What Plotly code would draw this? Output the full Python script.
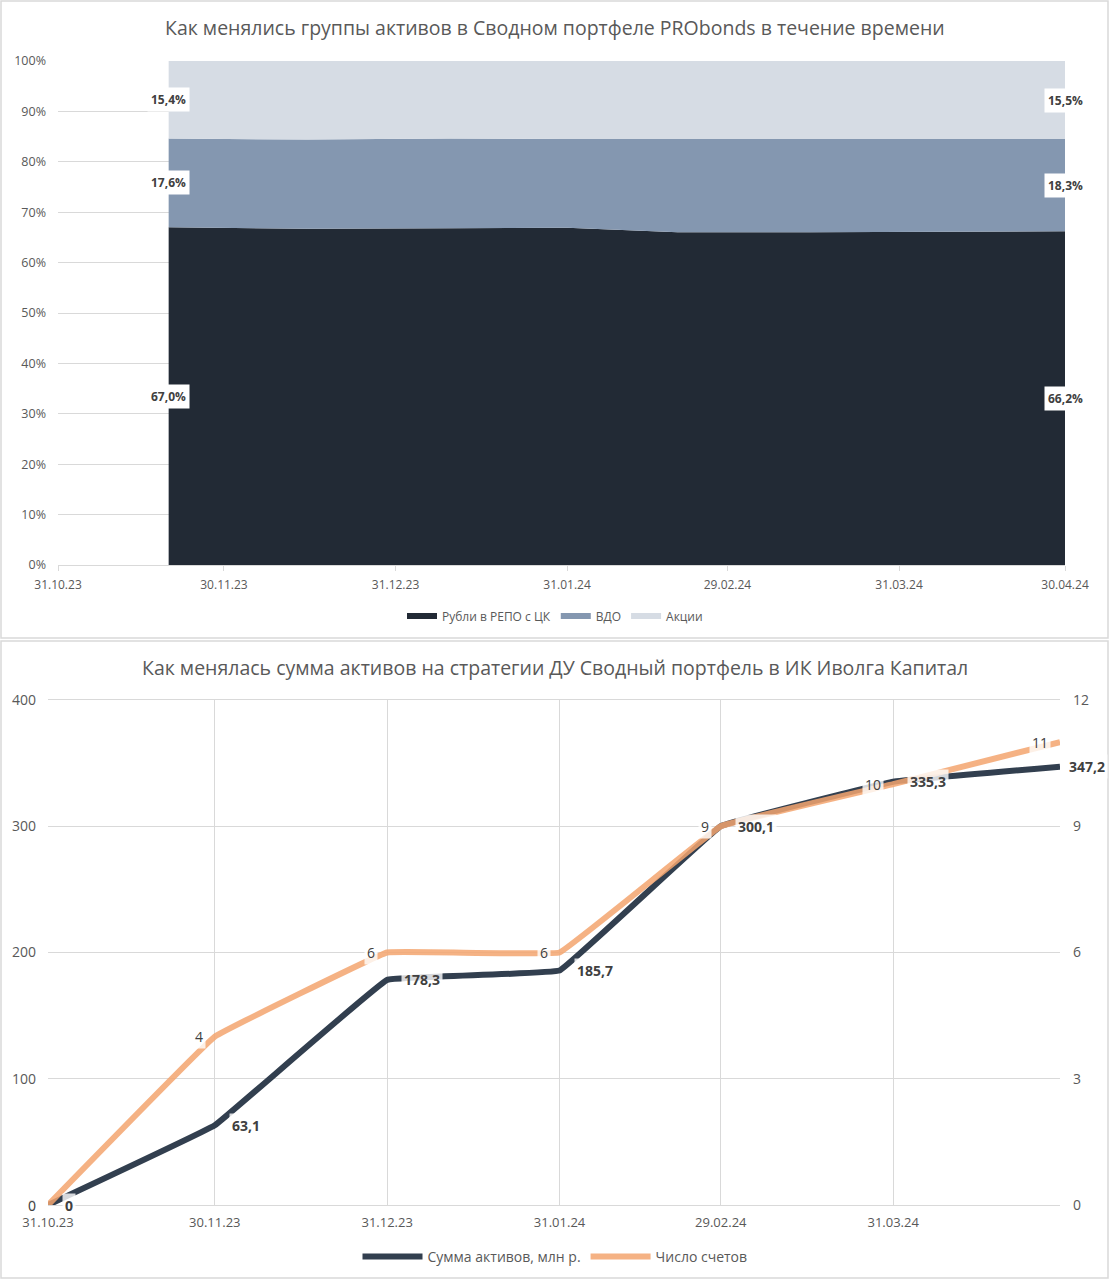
import plotly.graph_objects as go

# Верхний график: структура портфеля, %
dates_top = ['2023-11-20', '2023-12-15', '2024-01-10', '2024-01-31',
             '2024-02-20', '2024-03-15', '2024-04-30']
repo = [67.0, 66.7, 66.8, 66.9, 66.0, 66.0, 66.2]
vdo = [17.6, 17.7, 17.8, 17.6, 18.5, 18.5, 18.3]
akcii = [15.4, 15.6, 15.4, 15.5, 15.5, 15.5, 15.5]

# Нижний график: сумма активов и число счетов
dates_bot = ['2023-10-31', '2023-11-30', '2023-12-31', '2024-01-31',
             '2024-02-29', '2024-03-31', '2024-04-30']
summa = [0, 63.1, 178.3, 185.7, 300.1, 335.3, 347.2]
scheta = [0, 4, 6, 6, 9, 10, 11]

tick_dates = dates_bot
tick_labels = ['31.10.23', '30.11.23', '31.12.23', '31.01.24',
               '29.02.24', '31.03.24', '30.04.24']

W, H = 1110, 1280
FONT = 'Open Sans'
GRAY = '#595959'
GRID = '#D9D9D9'


def px(x):
    return x / W


def py(y):
    return 1 - y / H


fig = go.Figure()

# --- верхний: stacked area ---
fig.add_trace(go.Scatter(x=dates_top, y=repo, name='Рубли в РЕПО с ЦК', stackgroup='a',
                         mode='none', fillcolor='#222A35', xaxis='x', yaxis='y', legend='legend'))
fig.add_trace(go.Scatter(x=dates_top, y=vdo, name='ВДО', stackgroup='a',
                         mode='none', fillcolor='#8497B0', xaxis='x', yaxis='y', legend='legend'))
fig.add_trace(go.Scatter(x=dates_top, y=akcii, name='Акции', stackgroup='a',
                         mode='none', fillcolor='#D6DCE4', xaxis='x', yaxis='y', legend='legend'))

# --- нижний: линии ---
fig.add_trace(go.Scatter(x=dates_bot, y=summa, name='Сумма активов, млн р.', mode='lines',
                         line=dict(color='#323F4F', width=6, shape='spline', smoothing=0.15),
                         xaxis='x2', yaxis='y2', legend='legend2'))
fig.add_trace(go.Scatter(x=dates_bot, y=scheta, name='Число счетов', mode='lines',
                         line=dict(color='rgba(243,165,110,0.85)', width=6, shape='spline', smoothing=0.15),
                         xaxis='x2', yaxis='y3', legend='legend2'))

ann = []
# подписи долей в начале и конце
for i in (0, len(dates_top) - 1):
    base = 0
    for series in (repo, vdo, akcii):
        v = series[i]
        ann.append(dict(x=dates_top[i], y=base + v / 2, xref='x', yref='y',
                        text='<b>' + f'{v:.1f}'.replace('.', ',') + '%</b>',
                        showarrow=False, bgcolor='white', borderpad=3,
                        font=dict(family=FONT, size=12, color='#404040')))
        base += v

last = len(dates_bot) - 1
for i, (d, v) in enumerate(zip(dates_bot, summa)):
    t = f'{v:g}'.replace('.', ',') if v == int(v) else f'{v:.1f}'.replace('.', ',')
    ann.append(dict(x=d, y=v, xref='x2', yref='y2', text='<b>' + t + '</b>',
                    showarrow=False, xanchor='left', xshift=6 if i == last else 14, borderpad=2,
                    bgcolor='rgba(255,255,255,0.8)',
                    font=dict(family=FONT, size=14, color='#404040')))
for d, v in zip(dates_bot, scheta):
    ann.append(dict(x=d, y=v, xref='x2', yref='y3', text=str(v),
                    showarrow=False, xanchor='right', xshift=-9, borderpad=2,
                    bgcolor='rgba(255,255,255,0.8)',
                    font=dict(family=FONT, size=14, color='#404040')))

ann.append(dict(x=0.5, y=py(28), xref='paper', yref='paper', showarrow=False,
                xanchor='center', yanchor='middle',
                text='Как менялись группы активов в Сводном портфеле PRObonds в течение времени',
                font=dict(family=FONT, size=19.5, color=GRAY)))
ann.append(dict(x=0.5, y=py(667), xref='paper', yref='paper', showarrow=False,
                xanchor='center', yanchor='middle',
                text='Как менялась сумма активов на стратегии ДУ Сводный портфель в ИК Иволга Капитал',
                font=dict(family=FONT, size=19.5, color=GRAY)))

shapes = [
    dict(type='rect', xref='paper', yref='paper', x0=px(1), x1=px(1108), y0=py(1), y1=py(638),
         line=dict(color=GRID, width=1.5), layer='below'),
    dict(type='rect', xref='paper', yref='paper', x0=px(1), x1=px(1108), y0=py(641), y1=py(1278),
         line=dict(color=GRID, width=1.5), layer='below'),
]

fig.update_layout(
    width=W, height=H,
    margin=dict(l=0, r=0, t=0, b=0, autoexpand=False),
    paper_bgcolor='white', plot_bgcolor='white',
    font=dict(family=FONT, color=GRAY),
    annotations=ann, shapes=shapes,
    xaxis=dict(domain=[px(58), px(1065)], type='date', range=['2023-10-31', '2024-04-30'],
               tickvals=tick_dates, ticktext=tick_labels, showgrid=False, automargin=False,
               showline=True, linecolor=GRID, ticks='outside', tickcolor=GRID, ticklen=5,
               ticklabelstandoff=4,
               tickfont=dict(size=12, color=GRAY), anchor='y'),
    yaxis=dict(domain=[py(565), py(61)], range=[0, 100], dtick=10, ticksuffix='%',
               showgrid=True, gridcolor=GRID, zeroline=False, automargin=False,
               ticklabelstandoff=11,
               tickfont=dict(size=12.5, color=GRAY), anchor='x'),
    xaxis2=dict(domain=[px(48), px(1060)], type='date', range=['2023-10-31', '2024-04-30'],
                tickvals=tick_dates, ticktext=tick_labels[:-1] + [''], automargin=False,
                showgrid=True, gridcolor=GRID, showline=True, mirror=True, linecolor=GRID,
                ticklabelstandoff=5,
                tickfont=dict(size=13, color=GRAY), anchor='y2'),
    yaxis2=dict(domain=[py(1205), py(700)], range=[0, 400], dtick=100, automargin=False,
                showgrid=True, gridcolor=GRID, zeroline=False, ticklabelstandoff=11,
                tickfont=dict(size=14, color=GRAY), anchor='x2'),
    yaxis3=dict(range=[0, 12], dtick=3, overlaying='y2', side='right', anchor='x2',
                automargin=False, showgrid=False, zeroline=False, ticklabelstandoff=12,
                tickfont=dict(size=14, color=GRAY)),
    legend=dict(orientation='h', x=0.5, xanchor='center', y=py(616), yanchor='middle',
                font=dict(size=12, color=GRAY), traceorder='normal'),
    legend2=dict(orientation='h', x=0.5, xanchor='center', y=py(1257), yanchor='middle',
                 font=dict(size=14, color=GRAY), itemwidth=60),
)

fig.write_html("out.html", config={'displayModeBar': False},
               post_script="document.body.style.margin='0';")
